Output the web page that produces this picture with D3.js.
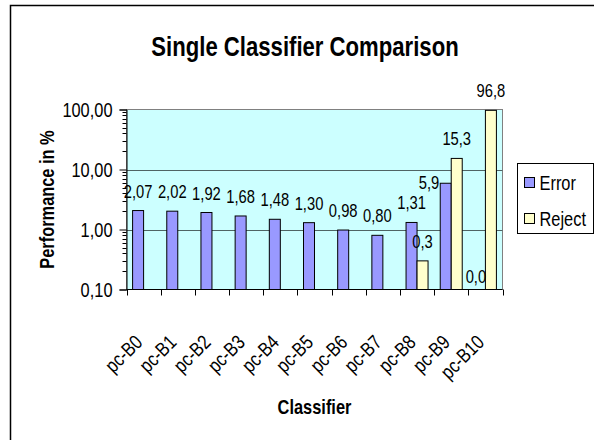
<!DOCTYPE html>
<html>
<head>
<meta charset="utf-8">
<script src="https://cdn.jsdelivr.net/npm/d3@7"></script>
<style>
  body { margin: 0; background: #fff; }
  svg { display: block; font-family: "Liberation Sans", Arial, sans-serif; }
</style>
</head>
<body>
<div id="chart"></div>
<script>
// -----------------------------
// DATA
// -----------------------------
const categories = ["pc-B0", "pc-B1", "pc-B2", "pc-B3", "pc-B4", "pc-B5", "pc-B6", "pc-B7", "pc-B8", "pc-B9", "pc-B10"];
const errorValues = [2.07, 2.02, 1.92, 1.68, 1.48, 1.30, 0.98, 0.80, 1.31, 5.9, 0.0];
const errorDecimals = [2, 2, 2, 2, 2, 2, 2, 2, 2, 1, 1];
const rejectValues = [null, null, null, null, null, null, null, null, 0.3, 15.3, 96.8];
const rejectDecimals = 1;
const seriesNames = ["Error", "Reject"];
const yTicks = [0.1, 1, 10, 100];

const width = 594;
const height = 440;
const plot = { left: 126.5, right: 502.5, top: 109.5, bottom: 289.5 };
const colors = { Error: "#9999ff", Reject: "#ffffcc" };
const squeeze = 0.82;   // original uses a narrow Helvetica/Arial

// decimal comma like the original
const fmt = (v, n) => v.toFixed(n).replace(".", ",");

// put a text at (px,py), optional rotation, and squeeze it horizontally
const narrow = (sel, px, py, rot = 0) =>
    sel.attr("x", 0).attr("y", 0)
       .attr("transform", (d, i) => {
           const X = typeof px === "function" ? px(d, i) : px;
           const Y = typeof py === "function" ? py(d, i) : py;
           return `translate(${X},${Y})` + (rot ? ` rotate(${rot})` : "") + ` scale(${squeeze},1)`;
       });

const svg = d3.select("#chart")
    .append("svg")
    .attr("width", width)
    .attr("height", height);

// outer chart border (only left / top visible in the picture)
svg.append("rect")
    .attr("x", 10.5).attr("y", 5.5)
    .attr("width", 600).attr("height", 450)
    .attr("fill", "#fff")
    .attr("stroke", "#000")
    .attr("stroke-width", 1.5);

// -----------------------------
// SCALES
// -----------------------------
const x = d3.scaleBand()
    .domain(categories)
    .range([plot.left, plot.right])
    .padding(0);

const xSub = d3.scaleBand()
    .domain(seriesNames)
    .range([0, x.bandwidth()])
    .paddingInner(0)
    .paddingOuter(0.554);

const y = d3.scaleLog()
    .domain([0.1, 100])
    .range([plot.bottom, plot.top]);

// plot background
svg.append("rect")
    .attr("x", plot.left).attr("y", plot.top)
    .attr("width", plot.right - plot.left)
    .attr("height", plot.bottom - plot.top)
    .attr("fill", "#ccffff")
    .attr("stroke", "#808080")
    .attr("stroke-width", 1);

// gridlines
svg.append("g")
    .selectAll("line")
    .data([1, 10])
    .join("line")
    .attr("x1", plot.left).attr("x2", plot.right)
    .attr("y1", d => Math.round(y(d)) + 0.5)
    .attr("y2", d => Math.round(y(d)) + 0.5)
    .attr("stroke", "#4f6464")
    .attr("stroke-width", 1);

// -----------------------------
// BARS
// -----------------------------
const barData = [];
categories.forEach((c, i) => {
    barData.push({ cat: c, series: "Error", value: errorValues[i], label: fmt(errorValues[i], errorDecimals[i]) });
    if (rejectValues[i] != null) barData.push({ cat: c, series: "Reject", value: rejectValues[i], label: fmt(rejectValues[i], rejectDecimals) });
});

svg.append("g")
    .selectAll("rect")
    .data(barData.filter(d => d.value > 0))
    .join("rect")
    .attr("x", d => x(d.cat) + xSub(d.series))
    .attr("y", d => y(d.value))
    .attr("width", xSub.bandwidth())
    .attr("height", d => y(0.1) - y(d.value))
    .attr("fill", d => colors[d.series])
    .attr("stroke", "#000")
    .attr("stroke-width", 1);

// data labels
const barCenter = d => x(d.cat) + xSub(d.series) + xSub.bandwidth() / 2;
const barTop = d => d.value > 0 ? y(d.value) : plot.bottom;
const squeezedLeft = d => d.cat === "pc-B9" && d.series === "Error";   // sits left of its bar in the original

const labels = svg.append("g")
    .selectAll("text")
    .data(barData)
    .join("text")
    .attr("font-size", 18)
    .attr("fill", "#000")
    .attr("text-anchor", d => squeezedLeft(d) ? "end" : "middle")
    .text(d => d.label);

narrow(labels,
    d => squeezedLeft(d) ? x(d.cat) + xSub(d.series) - 1 : (d.value === 0 ? barCenter(d) - 4 : barCenter(d)),
    d => squeezedLeft(d) ? barTop(d) + 6 : (d.value === 0 ? barTop(d) - 7 : barTop(d) - 13));

// -----------------------------
// AXES
// -----------------------------
const yAxis = svg.append("g")
    .attr("transform", `translate(${plot.left},0)`)
    .call(d3.axisLeft(y).tickValues(yTicks).tickSize(7).tickPadding(7)
        .tickFormat(d => fmt(d, 2)));
yAxis.attr("font-family", null).attr("font-size", null);
yAxis.select(".domain").attr("stroke", "#000");
yAxis.selectAll(".tick text")
    .attr("font-size", 20)
    .attr("fill", "#000")
    .attr("dy", "0.36em")
    .attr("transform", `translate(-14,0) scale(${squeeze},1)`)
    .attr("x", 0);

// minor ticks on log axis
const minor = [];
[0.1, 1, 10].forEach(b => { for (let k = 2; k <= 9; k++) minor.push(b * k); });
svg.append("g")
    .selectAll("line")
    .data(minor)
    .join("line")
    .attr("x1", plot.left - 4).attr("x2", plot.left)
    .attr("y1", d => Math.round(y(d)) + 0.5)
    .attr("y2", d => Math.round(y(d)) + 0.5)
    .attr("stroke", "#000");

// x axis: line + ticks between categories
svg.append("line")
    .attr("x1", plot.left).attr("x2", plot.right)
    .attr("y1", plot.bottom).attr("y2", plot.bottom)
    .attr("stroke", "#000");

svg.append("g")
    .selectAll("line")
    .data(categories.map(c => x(c)).concat([plot.right]))
    .join("line")
    .attr("x1", d => Math.round(d) + 0.5).attr("x2", d => Math.round(d) + 0.5)
    .attr("y1", plot.bottom).attr("y2", plot.bottom + 6)
    .attr("stroke", "#000");

// rotated category labels
const catLabels = svg.append("g")
    .selectAll("text")
    .data(categories)
    .join("text")
    .attr("text-anchor", "end")
    .attr("font-size", 20)
    .text(d => d);
narrow(catLabels, d => x(d) + x.bandwidth() / 2, plot.bottom + 54, -45);

// -----------------------------
// TITLES
// -----------------------------
narrow(svg.append("text")
    .attr("text-anchor", "middle")
    .attr("font-size", 27)
    .attr("font-weight", "bold")
    .text("Single Classifier Comparison"), 305, 56);

narrow(svg.append("text")
    .attr("text-anchor", "middle")
    .attr("font-size", 20)
    .attr("font-weight", "bold")
    .text("Classifier"), 314.5, 414);

narrow(svg.append("text")
    .attr("text-anchor", "middle")
    .attr("font-size", 20)
    .attr("font-weight", "bold")
    .text("Performance in %"), 54, (plot.top + plot.bottom) / 2, -90);

// -----------------------------
// LEGEND
// -----------------------------
const legend = svg.append("g");
legend.append("rect")
    .attr("x", 517.5).attr("y", 163.5)
    .attr("width", 76).attr("height", 70)
    .attr("fill", "#fff")
    .attr("stroke", "#000");

const items = legend.selectAll("g")
    .data(seriesNames)
    .join("g")
    .attr("transform", (d, i) => `translate(524.5,${177.5 + i * 36})`);

items.append("rect")
    .attr("width", 10).attr("height", 10)
    .attr("fill", d => colors[d])
    .attr("stroke", "#000");

narrow(items.append("text")
    .attr("font-size", 20)
    .text(d => d), 15, 12);
</script>
</body>
</html>
